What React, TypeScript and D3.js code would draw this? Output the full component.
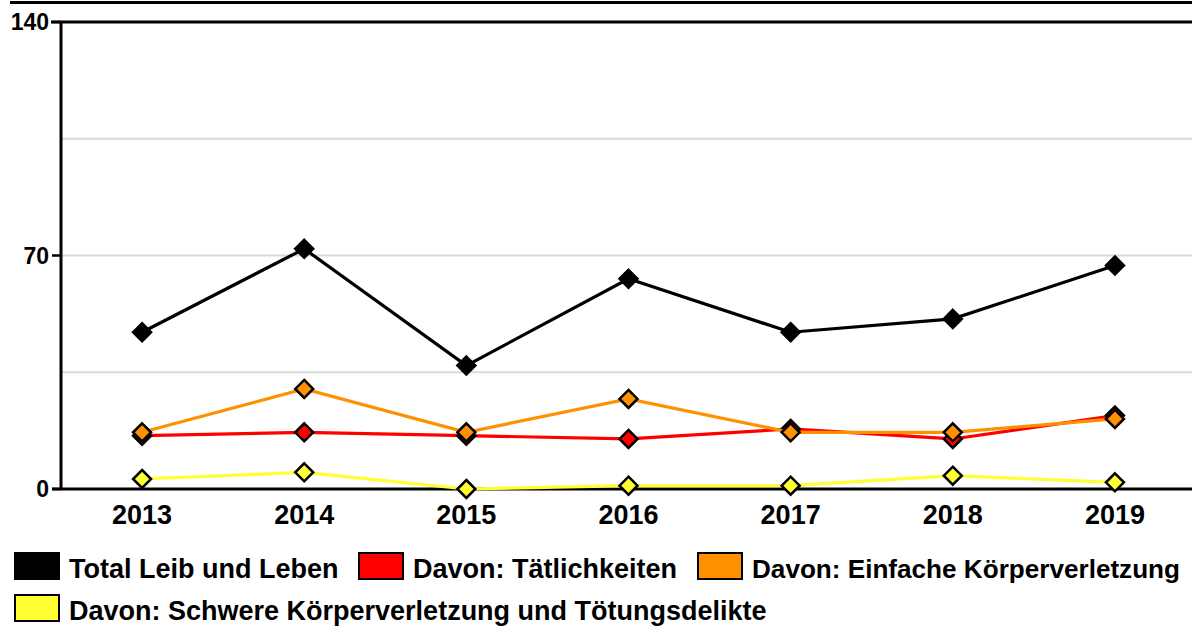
import React from "react";
import * as d3 from "d3";

const years = ["2013", "2014", "2015", "2016", "2017", "2018", "2019"];
const total = [47, 72, 37, 63, 47, 51, 67];
const taetlich = [16, 17, 16, 15, 18, 15, 22];
const einfache = [17, 30, 17, 27, 17, 17, 21];
const schwere = [3, 5, 0, 1, 1, 4, 2];
const yTicks = [0, 70, 140];
const gridValues = [35, 70, 105];

const seriesNames = [
  "Total Leib und Leben",
  "Davon: Tätlichkeiten",
  "Davon: Einfache Körperverletzung",
  "Davon: Schwere Körperverletzung und Tötungsdelikte",
];
const seriesColors = ["#000000", "#ff0000", "#ff9000", "#ffff33"];
const seriesValues = [total, taetlich, einfache, schwere];

const W = 1192;
const H = 626;
const left = 61;
const top = 22;
const bottom = 489;

const legendPos = [
  { x: 14, y: 552 },
  { x: 358, y: 552 },
  { x: 697, y: 552 },
  { x: 14, y: 594 },
];

export default function App() {
  const x = d3.scalePoint<string>().domain(years).range([left, 1196]).padding(0.5);
  const y = d3.scaleLinear().domain([0, 140]).range([bottom, top]);
  const line = d3
    .line<number>()
    .x((_, i) => x(years[i]) as number)
    .y((d) => y(d));
  const font = "'Liberation Sans', Arial, sans-serif";
  const dm = 9;
  const diamond = (cx: number, cy: number) =>
    `M${cx},${cy - dm}L${cx + dm},${cy}L${cx},${cy + dm}L${cx - dm},${cy}Z`;

  return (
    <svg
      width={W}
      height={H}
      style={{ position: "absolute", left: 0, top: 0, background: "#fff" }}
      fontFamily={font}
      fontWeight="bold"
    >
      <rect x={0} y={0} width={W} height={H} fill="#fff" />
      <line x1={10} x2={W} y1={2.5} y2={2.5} stroke="#000" strokeWidth={3} />
      {gridValues.map((v) => (
        <line key={v} x1={left} x2={W} y1={y(v)} y2={y(v)} stroke="#d9d9d9" strokeWidth={2} />
      ))}
      <line x1={left - 10} x2={W} y1={y(140)} y2={y(140)} stroke="#000" strokeWidth={3} />
      {yTicks.map((v) => (
        <g key={v}>
          <line x1={left - 9} x2={left} y1={y(v)} y2={y(v)} stroke="#000" strokeWidth={2.5} />
          <text x={left - 12} y={y(v)} dy="0.36em" textAnchor="end" fontSize={23} fill="#000">
            {v}
          </text>
        </g>
      ))}
      <line x1={left} x2={left} y1={top} y2={bottom} stroke="#000" strokeWidth={3} />
      <line x1={left - 9} x2={W} y1={bottom} y2={bottom} stroke="#000" strokeWidth={3} />
      {years.map((yr) => (
        <text key={yr} x={x(yr)} y={524} textAnchor="middle" fontSize={27} fill="#000">
          {yr}
        </text>
      ))}
      {seriesValues.map((vals, si) => (
        <g key={si}>
          <path d={line(vals) || ""} fill="none" stroke={seriesColors[si]} strokeWidth={3.2} />
          {vals.map((v, i) => (
            <path
              key={i}
              d={diamond(x(years[i]) as number, y(v))}
              fill={seriesColors[si]}
              stroke="#000"
              strokeWidth={2.5}
            />
          ))}
        </g>
      ))}
      {seriesNames.map((name, i) => (
        <g key={name}>
          <rect
            x={legendPos[i].x + 1}
            y={legendPos[i].y + 1}
            width={44}
            height={26}
            fill={seriesColors[i]}
            stroke="#000"
            strokeWidth={2}
          />
          <text
            x={legendPos[i].x + 55}
            y={legendPos[i].y + 26}
            fontSize={i === 2 ? 26.5 : 27}
            fill="#000"
            {...(i === 2 ? { textLength: 428, lengthAdjust: "spacingAndGlyphs" } : {})}
          >
            {name}
          </text>
        </g>
      ))}
    </svg>
  );
}
